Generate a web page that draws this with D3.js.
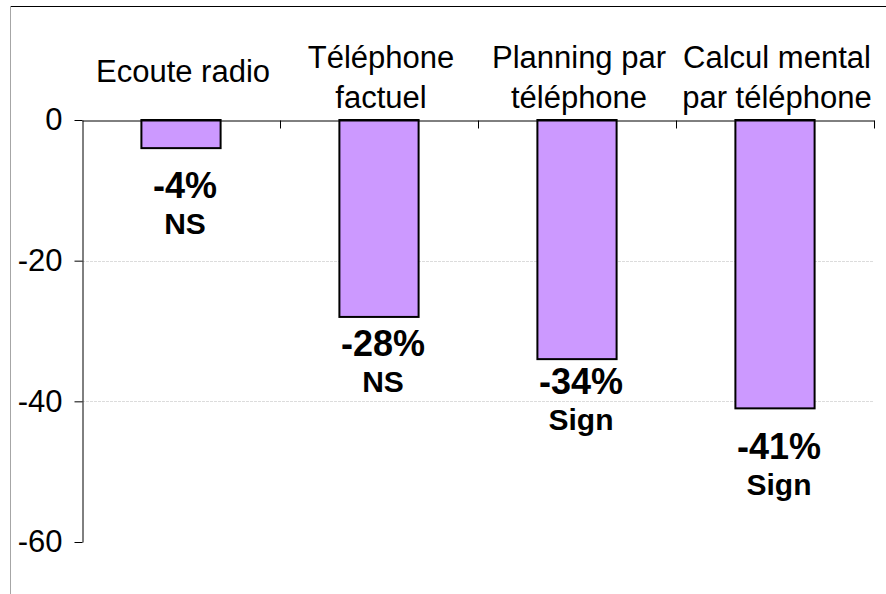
<!DOCTYPE html>
<html>
<head>
<meta charset="utf-8">
<script src="https://cdn.jsdelivr.net/npm/d3@7"></script>
<style>
  body { margin: 0; background: #fff; }
  svg { display: block; font-family: "Liberation Sans", Arial, sans-serif; }
</style>
</head>
<body>
<div id="container"></div>
<script>
// data
const categories = [
  ["Ecoute radio"],
  ["Téléphone", "factuel"],
  ["Planning par", "téléphone"],
  ["Calcul mental", "par téléphone"]
];
const values = [-4, -28, -34, -41];
const percentLabels = ["-4%", "-28%", "-34%", "-41%"];
const signifLabels = ["NS", "NS", "Sign", "Sign"];
const yTicks = [0, -20, -40, -60];
const gridTicks = [-20, -40];

// chart properties
const width = 886;
const height = 594;
const plotLeft = 82, plotRight = 874, plotTop = 120, plotBottom = 542;
// gap (px) between bar end and the percent label baseline, as placed in the original
const labelGap = [50, 39, 35, 51];

const svg = d3.select('#container')
              .append('svg')
              .attr('width', width)
              .attr('height', height);

// frame lines
svg.append('line')
   .attr('x1', 10).attr('x2', width).attr('y1', 6.5).attr('y2', 6.5)
   .attr('stroke', '#000').attr('stroke-width', 1);
svg.append('line')
   .attr('x1', 10.5).attr('x2', 10.5).attr('y1', 6).attr('y2', height)
   .attr('stroke', '#a6a6a6').attr('stroke-width', 1);

const keys = categories.map(c => c.join(' '));

const xScale = d3.scaleBand()
                 .domain(keys)
                 .range([plotLeft, plotRight])
                 .paddingInner(0.6)
                 .paddingOuter(0.3);

const yScale = d3.scaleLinear()
                 .domain([-60, 0])
                 .range([plotBottom, plotTop]);

// gridlines
svg.append('g')
   .selectAll('line')
   .data(gridTicks)
   .enter()
   .append('line')
   .attr('x1', plotLeft)
   .attr('x2', plotRight)
   .attr('y1', d => Math.round(yScale(d)) + 0.5)
   .attr('y2', d => Math.round(yScale(d)) + 0.5)
   .attr('stroke', '#dcdcdc')
   .attr('stroke-dasharray', '3,1');

// bars
svg.append('g')
   .selectAll('rect')
   .data(values)
   .enter()
   .append('rect')
   .attr('x', (d, i) => xScale(keys[i]))
   .attr('y', yScale(0))
   .attr('width', xScale.bandwidth())
   .attr('height', d => yScale(d) - yScale(0))
   .attr('fill', '#cc99ff')
   .attr('stroke', '#000')
   .attr('stroke-width', 2);

// y axis
const yAxis = d3.axisLeft(yScale)
                .tickValues(yTicks)
                .tickSize(8)
                .tickSizeOuter(0)
                .tickPadding(12)
                .tickFormat(d => String(d)); // plain hyphen, not the unicode minus

svg.append('g')
   .attr('transform', `translate(${plotLeft + 0.5},0)`)
   .call(yAxis)
   .call(g => g.selectAll('text')
               .attr('font-size', 31)
               .attr('font-family', '"Liberation Sans", Arial, sans-serif')
               .attr('fill', '#000'))
   .call(g => g.selectAll('line,path').attr('stroke', '#000'));

// x axis (zero line with ticks at the category boundaries)
const xBound = d3.scaleLinear().domain([0, keys.length]).range([plotLeft, plotRight]);
const xAxis = d3.axisBottom(xBound)
                .tickValues(d3.range(1, keys.length + 1))
                .tickSize(8)
                .tickSizeOuter(0)
                .tickFormat('');

svg.append('g')
   .attr('transform', `translate(0,${yScale(0) + 0.5})`)
   .call(xAxis)
   .call(g => g.selectAll('line,path').attr('stroke', '#000'));

// category labels above the chart
const catText = svg.append('g')
   .selectAll('text')
   .data(categories)
   .enter()
   .append('text')
   .attr('text-anchor', 'middle')
   .attr('font-size', 31)
   .attr('fill', '#000');

catText.each(function (lines, i) {
  const t = d3.select(this);
  const cx = xScale(keys[i]) + xScale.bandwidth() / 2 + 2;
  const y0 = lines.length === 1 ? 82 : 68;
  lines.forEach((line, j) => {
    t.append('tspan')
     .attr('x', cx)
     .attr('y', y0 + j * 40)
     .text(line);
  });
});

// value labels under the bars
const valueLabels = svg.append('g')
   .selectAll('g')
   .data(values)
   .enter()
   .append('g')
   .attr('transform', (d, i) =>
         `translate(${xScale(keys[i]) + xScale.bandwidth() / 2 + 4},${yScale(d) + labelGap[i]})`);

valueLabels.append('text')
   .attr('text-anchor', 'middle')
   .attr('font-size', 36)
   .attr('font-weight', 'bold')
   .text((d, i) => percentLabels[i]);

valueLabels.append('text')
   .attr('text-anchor', 'middle')
   .attr('y', 36)
   .attr('font-size', 30)
   .attr('font-weight', 'bold')
   .text((d, i) => signifLabels[i]);
</script>
</body>
</html>
